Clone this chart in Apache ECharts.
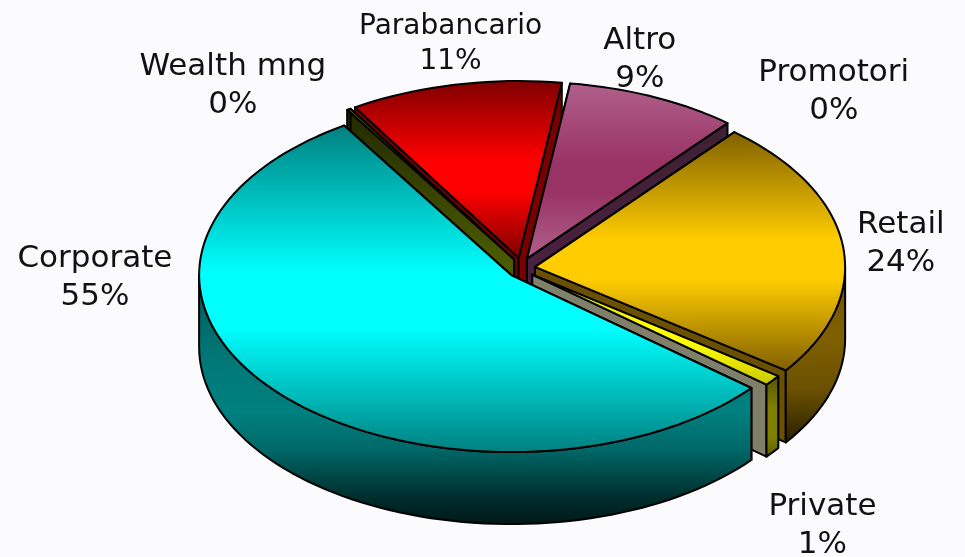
<!DOCTYPE html>
<html>
<head>
<meta charset="utf-8">
<style>
  html, body { margin: 0; padding: 0; background: #fbfafd; }
  #chart { width: 965px; height: 557px; }
</style>
</head>
<body>
<div id="chart"></div>
<script src="https://cdn.jsdelivr.net/npm/echarts@6/dist/echarts.min.js"></script>
<script>
// slices, clockwise from the start angle
const names = ['Retail', 'Private', 'Corporate', 'Wealth mng', 'Parabancario', 'Altro', 'Promotori']
const shares = [23.9, 1.0, 55.0, 0.2, 11.0, 8.9, 0.0]

// pie geometry
const cx = 521.4, cy = 268.2   // centre before the slices are pulled out
const rx = 312, ry = 177       // tilted ellipse
const depth = 72
const pullX = 13.7, pullY = 10.4
const startAngle = 50
const rimScale = [0.994, 0.975, 1, 1, 1, 1, 1]

// painted back to front
const drawOrder = [6, 4, 5, 3, 0, 1, 2]

// colours per slice, same order as names
const topEdge = ['#806000', '#c8c800', '#008080', '#4a5a00', '#800000', '#b0608c', '#4a2040']
const topMid = ['#ffcc00', '#ffff00', '#00ffff', '#6a7a00', '#ff0000', '#993366', '#4a2040']
const sideStops = [
  [[0, '#6e5200'], [0.4, '#806000'], [0.7, '#6a5000'], [1, '#2a2000']],
  [[0, '#555500'], [0.4, '#808000'], [0.75, '#808000'], [1, '#5c5c00']],
  [[0, '#005a5a'], [0.35, '#007878'], [0.55, '#008080'], [0.7, '#006868'], [0.9, '#002c2c'], [1, '#001818']],
  [[0, '#222800'], [1, '#4a5a00']],
  [[0, '#500000'], [1, '#800000']],
  [[0, '#3a2030'], [1, '#4a2040']],
  [[0, '#3a2030'], [1, '#4a2040']]
]
const radial = ['#6a5000', '#80806a', '#006060', null, '#7a0000', null, null]

// label anchor, offset from the middle of the slice rim
const labelDx = [58, 50, -182, -116, -4, -14, 103]
const labelDy = [-2, 146, -114, -23, -41, -37, -33]
const labelSize = [31, 31, 31, 31, 28, 31, 31]
const labelLine = [38, 38, 38, 38, 35, 38, 38]

const rad = d => d * Math.PI / 180
const total = shares.reduce((a, b) => a + b, 0)

const slices = []
let a = startAngle
shares.forEach((v, i) => {
  const sweep = v / total * 360
  const mid = a - sweep / 2
  slices.push({
    i, from: a, to: a - sweep, mid, sweep,
    x: cx + pullX * Math.cos(rad(mid)),
    y: cy - pullY * Math.sin(rad(mid))
  })
  a -= sweep
})

function rim(s, deg, down) {
  const k = rimScale[s.i]
  return [s.x + k * rx * Math.cos(rad(deg)), s.y - k * ry * Math.sin(rad(deg)) + (down || 0)]
}
function arc(s, from, to, down) {
  const pts = []
  const n = Math.max(2, Math.ceil(Math.abs(from - to) / 2))
  for (let k = 0; k <= n; k++) pts.push(rim(s, from + (to - from) * k / n, down))
  return pts
}
function toStops(list) {
  return list.map(d => ({ offset: d[0], color: d[1] }))
}
function vGradient(pts, stops) {
  const ys = pts.map(p => p[1])
  return new echarts.graphic.LinearGradient(0, Math.min(...ys), 0, Math.max(...ys), stops, true)
}
function poly(pts, fill) {
  return {
    type: 'polygon',
    shape: { points: pts },
    style: { fill, stroke: '#000', lineWidth: 2, lineJoin: 'round' }
  }
}
function radialWall(s, deg, fill) {
  const p = rim(s, deg)
  return poly([[s.x, s.y], p, [p[0], p[1] + depth], [s.x, s.y + depth]], fill)
}
// the rim wall only shows on the near half of the ellipse
function outerWall(s) {
  const hi = Math.min(s.from, 0), lo = Math.max(s.to, -180)
  if (hi <= lo) return null
  const pts = arc(s, hi, lo, 0).concat(arc(s, lo, hi, depth))
  return poly(pts, vGradient(pts, toStops(sideStops[s.i])))
}

function renderSlice(params, api) {
  const s = slices[api.value(0)]
  if (!s.sweep) return null   // 0% slice has nothing to paint, only its label
  const i = s.i
  const topPts = [[s.x, s.y]].concat(arc(s, s.from, s.to, 0))
  const wallFill = radial[i] || vGradient(
    [[s.x, s.y], rim(s, s.to), rim(s, s.from)],
    toStops(sideStops[i])
  )
  const children = [radialWall(s, s.from, wallFill), radialWall(s, s.to, wallFill)]
  const wall = outerWall(s)
  if (wall) children.push(wall)
  children.push(poly(topPts, vGradient(topPts, [
    { offset: 0, color: topEdge[i] },
    { offset: 0.45, color: topMid[i] },
    { offset: 0.62, color: topMid[i] },
    { offset: 1, color: topEdge[i] }
  ])))
  return { type: 'group', children }
}

function renderLabel(params, api) {
  const s = slices[api.value(0)]
  const p = rim(s, s.mid)
  return {
    type: 'text',
    style: {
      text: names[s.i] + '\n' + Math.round(shares[s.i]) + '%',
      x: p[0] + labelDx[s.i],
      y: p[1] + labelDy[s.i],
      fill: '#111',
      font: labelSize[s.i] + 'px "DejaVu Sans"',
      lineHeight: labelLine[s.i],
      align: 'center',
      verticalAlign: 'middle'
    }
  }
}

const chart = echarts.init(document.getElementById('chart'))
chart.setOption({
  backgroundColor: '#fbfafd',
  animation: false,
  series: [
    {
      type: 'custom',
      coordinateSystem: 'none',
      renderItem: renderSlice,
      data: drawOrder.map(i => [i]),
      silent: true
    },
    {
      type: 'custom',
      coordinateSystem: 'none',
      renderItem: renderLabel,
      data: drawOrder.map(i => [i]),
      silent: true,
      z: 5
    }
  ]
})
</script>
</body>
</html>
